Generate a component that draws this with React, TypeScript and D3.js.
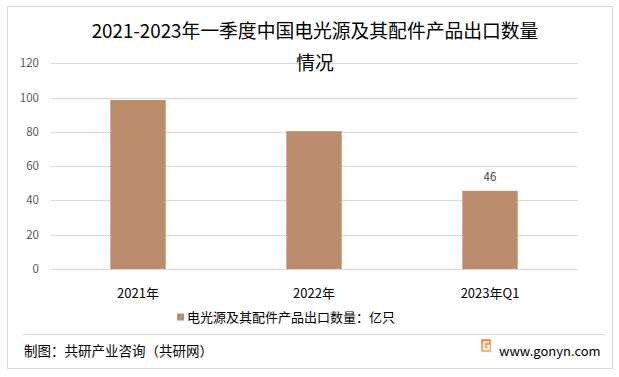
import React from "react";
import * as d3 from "d3";

const categories = ["2021年", "2022年", "2023年Q1"];
const values = [98.6, 80.4, 45.6];
const shownLabels = ["", "", "46"];
const yTicks = [0, 20, 40, 60, 80, 100, 120];
const titleLines = ["2021-2023年一季度中国电光源及其配件产品出口数量", "情况"];
const legendLabel = "电光源及其配件产品出口数量：亿只";
const sourceText = "制图：共研产业咨询（共研网）";
const siteText = "www.gonyn.com";

const W = 619;
const H = 377;
const FONT = "'Noto Sans CJK SC', 'Noto Sans', sans-serif";

export default function App() {
  const x = d3
    .scaleBand<string>()
    .domain(categories)
    .range([50, 578])
    .paddingInner(0.685)
    .paddingOuter(0.3425);
  const y = d3.scaleLinear().domain([0, 120]).range([269, 63.3]);

  return (
    <svg
      width={W}
      height={H}
      style={{ position: "absolute", left: 0, top: 0, background: "#fff" }}
      fontFamily={FONT}
    >
      <rect x={0} y={0} width={W} height={H} fill="#fff" />
      <rect x={7.5} y={6.5} width={605} height={362} fill="#fff" stroke="#d9d9d9" strokeWidth={1} />

      {yTicks.map((t) => (
        <g key={t}>
          <line x1={50} x2={578} y1={Math.round(y(t)) + 0.5} y2={Math.round(y(t)) + 0.5} stroke="#d9d9d9" strokeWidth={1} />
          <text x={39} y={y(t)} dy="0.35em" textAnchor="end" fontSize={11.5} fill="#595959">
            {t}
          </text>
        </g>
      ))}

      {titleLines.map((line, i) => (
        <text key={i} x={315} y={31 + i * 32} dy="0.36em" textAnchor="middle" fontSize={18.8} fill="#000">
          {line}
        </text>
      ))}

      {categories.map((c, i) => (
        <g key={c}>
          <rect
            x={x(c)!}
            y={y(values[i])}
            width={x.bandwidth()}
            height={y(0) - y(values[i])}
            fill="#BB8D6D"
          />
          {shownLabels[i] && (
            <text x={x(c)! + x.bandwidth() / 2} y={y(values[i]) - 14} dy="0.35em" textAnchor="middle" fontSize={11.5} fill="#404040">
              {shownLabels[i]}
            </text>
          )}
          <text x={x(c)! + x.bandwidth() / 2} y={293} dy="0.35em" textAnchor="middle" fontSize={13} fill="#000">
            {c}
          </text>
        </g>
      ))}

      <rect x={177} y={313.5} width={7} height={7} fill="#BB8D6D" />
      <text x={187} y={317} dy="0.35em" fontSize={13} fill="#000">
        {legendLabel}
      </text>

      <line x1={22} x2={605} y1={334.5} y2={334.5} stroke="#d9d9d9" strokeWidth={1} />

      <text x={24} y={351} dy="0.35em" fontSize={13.5} fill="#000">
        {sourceText}
      </text>

      <defs>
        <linearGradient id="logoGrad" x1="0" y1="0" x2="0" y2="1">
          <stop offset="0" stopColor="#F2884A" />
          <stop offset="1" stopColor="#F5B97E" />
        </linearGradient>
      </defs>
      <rect x={481} y={339} width={10} height={13} rx={1.5} fill="url(#logoGrad)" />
      <path d="M489 342 H484 V349 H489 V346 H486.5" fill="none" stroke="#fff" strokeWidth={1.4} />
      <text x={499} y={351} dy="0.35em" fontSize={13} fill="#000">
        {siteText}
      </text>
    </svg>
  );
}
